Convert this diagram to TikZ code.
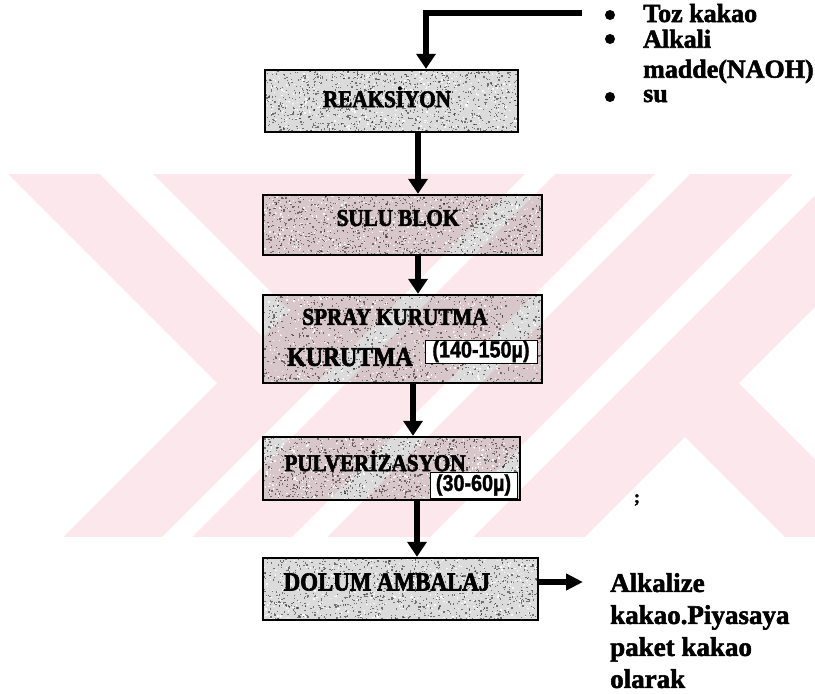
\documentclass[tikz,border=0pt]{standalone}
\usepackage{fontspec}
\setmainfont{Liberation Serif}
\newfontfamily\boxfont{Liberation Serif}[FakeStretch=0.88, BoldFeatures={FakeBold=2.5}]
\newfontfamily\tagfont{Liberation Sans}[FakeStretch=0.86, BoldFeatures={FakeBold=1.5}]
\newfontfamily\sidefont{Liberation Serif}[BoldFeatures={FakeBold=2}]
\usetikzlibrary{arrows.meta,calc}
\definecolor{wmpink}{RGB}{252,232,236}
\definecolor{speck}{RGB}{30,25,25}
\begin{document}
\begin{tikzpicture}[x=1pt,y=-1pt,
  speckled/.style={path picture={%
    \pgfpointanchor{path picture bounding box}{south west}\pgfgetlastxy{\spx}{\spy}%
    \pgfpointanchor{path picture bounding box}{north east}\pgfgetlastxy{\epx}{\epy}%
    \foreach \k in {1,...,1000}{%
      \fill[speck, fill opacity=0.55] ({\spx+rnd*(\epx-\spx)},{\spy+rnd*(\epy-\spy)}) rectangle ++(1.3pt,1.3pt);}%
    \foreach \k in {1,...,500}{%
      \fill[white, fill opacity=0.85] ({\spx+rnd*(\epx-\spx)},{\spy+rnd*(\epy-\spy)}) rectangle ++(1.3pt,1.3pt);}%
  }},
  stepbox/.style={draw=black, line width=2.4pt, fill=black, fill opacity=0.14, inner sep=0pt, speckled},
  lab/.style={font=\boxfont\bfseries\fontsize{24}{26}\selectfont, inner sep=0pt},
  tag/.style={draw=black, line width=1pt, fill=white, font=\tagfont\bfseries\fontsize{23}{24}\selectfont, inner sep=0pt},
  side/.style={font=\sidefont\bfseries\fontsize{26}{30}\selectfont, inner sep=0pt, align=left},
  conn/.style={line width=6pt, -{Triangle[width=19pt,length=15pt]}},
  bullet/.style={fill=black}
]
\pgfmathsetseed{7}
\useasboundingbox (0,0) rectangle (815,694);
\fill[white] (0,0) rectangle (815,694);

% watermark
\begin{scope}
  \clip (0,174) rectangle (815,537);
  \fill[wmpink] (0,174) rectangle (815,537);
  \fill[white] (217,383) -- (-117,49) -- (-300,49) -- (-300,783) -- (-183,783) -- cycle;
  \fill[white] (289.5,310.5) -- (79,100) -- (26,100) -- (263,337) -- cycle;
  \fill[white] (599,100) -- (629,100) -- (129,600) -- (99,600) -- cycle;
  \fill[white] (729,100) -- (764,100) -- (264,600) -- (229,600) -- cycle;
  \fill[white] (867,100) -- (910,100) -- (410,600) -- (367,600) -- cycle;
  \fill[white] (739,383) -- (1039,83) -- (1300,83) -- (1300,900) -- (1256,900) -- cycle;
  \fill[white] (685,437) -- (1000,752) -- (1000,1000) -- (122,1000) -- cycle;
\end{scope}

% boxes
\node[stepbox, minimum width=253pt, minimum height=62pt] (reak) at (391.5,101) {};
\node[stepbox, minimum width=279pt, minimum height=60pt] (sulu) at (402.5,225) {};
\node[stepbox, minimum width=279pt, minimum height=88pt] (spray) at (402.5,339) {};
\node[stepbox, minimum width=257pt, minimum height=63pt] (pulv) at (391.5,468.5) {};
\node[stepbox, minimum width=275pt, minimum height=62pt] (dolum) at (400.5,589) {};

% labels
\node[lab] (reakt) at (387,97) {REAKSİYON};
\node[lab] (sulut) at (398,218) {SULU BLOK};
\node[lab] (sprayt) at (395,317) {SPRAY KURUTMA};
\node[lab, font=\boxfont\bfseries\fontsize{27}{29}\selectfont] (kurt) at (350,357) {KURUTMA};
\node[tag, minimum width=112pt, minimum height=23pt] (t1) at (481,351.5) {(140-150µ)};
\node[lab] (pulvt) at (375,461) {PULVERİZASYON};
\node[tag, minimum width=87pt, minimum height=26pt] (t2) at (473.5,485) {(30-60µ)};
\node[lab, font=\boxfont\bfseries\fontsize{26}{28}\selectfont] (dolumt) at (387,582) {DOLUM AMBALAJ};

% connectors
\coordinate (inlet) at (582,13);
\coordinate (x0) at (426,0);
\coordinate (x1) at (418,0);
\coordinate (x2) at (413,0);
\coordinate (x3) at (417,0);
\coordinate (outlet) at (583,582);
\draw[conn] (inlet) -- (inlet -| x0) -- (reak.north -| x0);
\draw[conn] (reak.south -| x1) -- (sulu.north -| x1);
\draw[conn] (sulu.south -| x1) -- (spray.north -| x1);
\draw[conn] (spray.south -| x2) -- (pulv.north -| x2);
\draw[conn] (pulv.south -| x3) -- (dolum.north -| x3);
\draw[line width=6pt, -{Triangle[width=16pt,length=17pt]}] (dolum.east |- outlet) -- (outlet);

% input list
\fill[bullet] (610,15) circle[radius=5pt];
\fill[bullet] (610,39) circle[radius=5pt];
\fill[bullet] (610,97) circle[radius=5pt];
\node[side, anchor=base west] (in1) at (643,22) {Toz kakao};
\node[side, anchor=north west] (in2) at (643,29.5) {Alkali\\madde(NAOH)};
\node[side, anchor=base west] (in3) at (643,102) {su};

% output text
\node[side, font=\sidefont\bfseries\fontsize{27}{32}\selectfont, anchor=north west] (outtxt) at (610,573) {Alkalize\\kakao.Piyasaya\\paket kakao\\olarak};
\node[font=\sidefont\bfseries\fontsize{18}{20}\selectfont, inner sep=0pt] (semi) at (637,500) {;};
\end{tikzpicture}
\end{document}
